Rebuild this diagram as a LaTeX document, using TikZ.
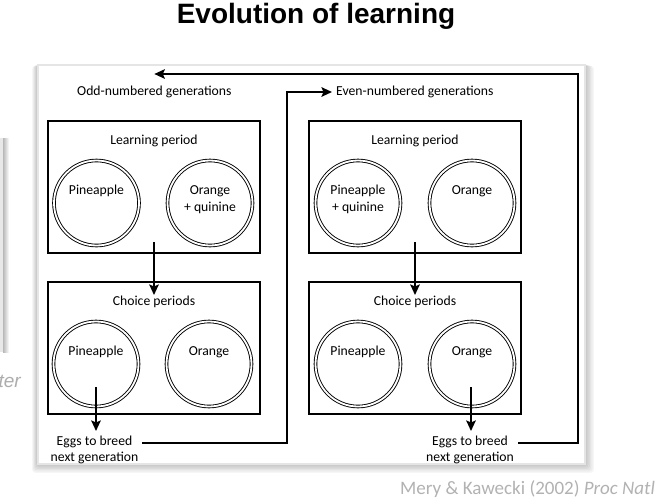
\documentclass[tikz,border=0pt]{standalone}
\usepackage{fontspec}
\setmainfont{Carlito}
\newfontfamily\titlefont{Liberation Sans}
\usetikzlibrary{arrows.meta}
\begin{document}
\begin{tikzpicture}[x=1pt,y=-1pt,
  box/.style={draw, line width=1.6pt, minimum width=212pt, minimum height=132pt, inner sep=0},
  dish/.style={circle, draw, double, line width=0.9pt, double distance=1.8pt, minimum size=85pt, inner sep=0},
  lbl/.style={font=\fontsize{13.7}{16.5}\selectfont, inner sep=0, align=center},
  flow/.style={line width=2.4pt, -{Stealth[length=10.5pt,width=9.5pt,inset=2pt]}},
  plainline/.style={line width=2.4pt}]
\useasboundingbox (0,0) rectangle (659,499);
\fill[white] (0,0) rectangle (659,499);
% title
\node[font=\titlefont\bfseries\fontsize{28}{30}\selectfont, anchor=base, inner sep=0] (title) at (316,23) {Evolution of learning};
% left partial slide element
\fill[black!9] (0,138) rectangle (3,352);
\shade[left color=black!28, right color=white] (3,138) rectangle (9,352);
\node[font=\fontsize{19}{20}\selectfont\titlefont\itshape, text=black!32, anchor=base east, inner sep=0] (ter) at (21,387) {ter};
% panel shadow
\foreach \i in {1,...,6}
  \fill[black, opacity=0.035, rounded corners=3pt] ({37-\i*0.8},{64+\i*0.3}) rectangle ({586+\i*1.3},{465+\i*1.3});
\fill[white] (37,64) rectangle (586,465);
\draw[black!10, line width=1.5pt] (37.8,64.8) rectangle (585.2,464.2);
% boxes
\node[box] (LL) at (154,187) {};
\node[box] (LC) at (154,348) {};
\node[box] (RL) at (415,187) {};
\node[box] (RC) at (415,348) {};
% headers
\node[lbl] (LLt) at (154,141) {Learning period};
\node[lbl] (LCt) at (154,302) {Choice periods};
\node[lbl] (RLt) at (415,141) {Learning period};
\node[lbl] (RCt) at (415,302) {Choice periods};
% dishes
\node[dish] (LLa) at (96.5,203) {};
\node[dish] (LLb) at (210,203) {};
\node[dish] (LCa) at (96,364) {};
\node[dish] (LCb) at (209,364) {};
\node[dish] (RLa) at (358,203) {};
\node[dish] (RLb) at (472,203) {};
\node[dish] (RCa) at (358,364) {};
\node[dish] (RCb) at (472,364) {};
% dish labels
\node[lbl] (LLat) at (96.5,191) {Pineapple};
\node[lbl] (LLbt) at (210,199.5) {Orange\\+ quinine};
\node[lbl] (LCat) at (96,352) {Pineapple};
\node[lbl] (LCbt) at (209,352) {Orange};
\node[lbl] (RLat) at (358,199.5) {Pineapple\\+ quinine};
\node[lbl] (RLbt) at (472,191) {Orange};
\node[lbl] (RCat) at (358,352) {Pineapple};
\node[lbl] (RCbt) at (472,352) {Orange};
% generation labels
\node[lbl, anchor=west] (odd) at (77,92) {Odd-numbered generations};
\node[lbl, anchor=west] (even) at (336,92) {Even-numbered generations};
% eggs labels
\node[lbl] (eggL) at (94.5,450) {Eggs to breed\\next generation};
\node[lbl] (eggR) at (470,450) {Eggs to breed\\next generation};
\coordinate (eL) at (142,443);
\coordinate (eR) at (518,443);
% connectors
\draw[flow] (LL.south |- 0,242) -- (LC.north |- 0,295);
\draw[flow] (RL.south |- 0,242) -- (RC.north |- 0,295);
\draw[flow] (LCa.center |- 0,387) -- (LCa.center |- 0,431);
\draw[flow] ([xshift=-1pt]RCb.center |- 0,387) -- ([xshift=-1pt]RCb.center |- 0,431);
\draw[flow] (eL) -| (287,92) -- ([xshift=-4pt]even.west);
\draw[flow] (eR) -| (578,74) -- (odd.north |- 0,74);
% citation
\node[font=\fontsize{19}{20}\selectfont, text=black!30, anchor=base west, inner sep=0] (cite) at (400,494) {Mery \& Kawecki (2002) \textit{Proc Natl}};
\end{tikzpicture}
\end{document}
